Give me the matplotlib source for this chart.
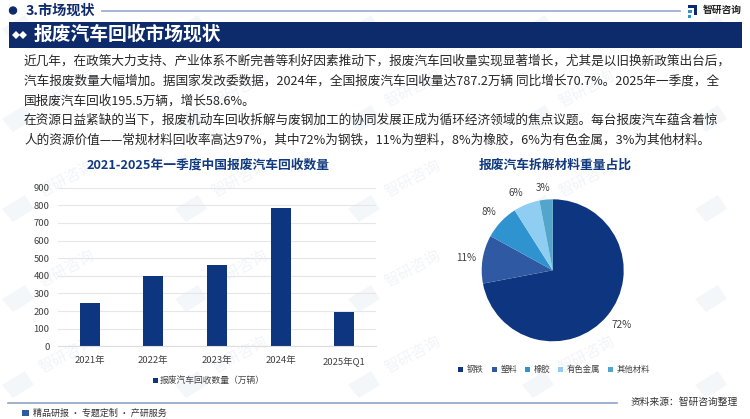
import matplotlib
matplotlib.use('Agg')
import matplotlib.pyplot as plt
from matplotlib.patches import Rectangle, Circle, Polygon

plt.rcParams['font.family'] = ['Noto Sans CJK SC', 'DejaVu Sans']

years = ['2021年', '2022年', '2023年', '2024年', '2025年Q1']
recycled = [245, 398, 462, 787, 195]
bar_name = '报废汽车回收数量（万辆）'
y_ticks = [0, 100, 200, 300, 400, 500, 600, 700, 800, 900]

materials = ['钢铁', '塑料', '橡胶', '有色金属', '其他材料']
shares = [72, 11, 8, 6, 3]
pie_colors = ['#0d3580', '#2f5aa3', '#2f93d0', '#8fcdf2', '#52a6cc']

para_lines = [
    '近几年，在政策大力支持、产业体系不断完善等利好因素推动下，报废汽车回收量实现显著增长，尤其是以旧换新政策出台后，',
    '汽车报废数量大幅增加。据国家发改委数据，2024年，全国报废汽车回收量达787.2万辆 同比增长70.7%。2025年一季度，全',
    '国报废汽车回收195.5万辆，增长58.6%。',
    '在资源日益紧缺的当下，报废机动车回收拆解与废钢加工的协同发展正成为循环经济领域的焦点议题。每台报废汽车蕴含着惊',
    '人的资源价值——常规材料回收率高达97%，其中72%为钢铁，11%为塑料，8%为橡胶，6%为有色金属，3%为其他材料。',
]
para_y = [61.5, 81.5, 101.5, 120.5, 140.5]

W, H = 750, 419
navy = '#0d2a6b'
title_blue = '#123a80'

fig = plt.figure(figsize=(7.5, 4.19), dpi=100)
bg = fig.add_axes([0, 0, 1, 1])
bg.set_xlim(0, W)
bg.set_ylim(H, 0)
bg.axis('off')

# watermark, very light, sits under everything
for x0 in [17, 190, 363, 537, 710]:
    for y0 in [27, 117, 207, 297, 383]:
        bg.add_patch(Polygon([(x0 - 15, y0 + 2), (x0 + 8, y0 - 12), (x0 + 17, y0 + 2), (x0 - 4, y0 + 15)],
                             color='#f4f7fa', lw=0, zorder=0))
        if x0 < 700 and y0 > 30:
            bg.text(x0 + 50, y0 - 28, '智研咨询', fontsize=11, color='#f2f4f7', rotation=28,
                    ha='center', va='center', zorder=0)

# header
bg.add_patch(Circle((13, 10.5), 3.5, color=navy, zorder=2))
bg.text(26, 10.5, '3.市场现状', fontsize=10.2, fontweight='bold', color=navy, va='center', zorder=3)
bg.plot([102, 680], [11, 11], color='#9fb0d0', lw=1.3, zorder=2)
bg.add_patch(Rectangle((9, 22), 733, 26, color=navy, lw=0, zorder=2))
for x0 in [16, 23]:
    bg.add_patch(Polygon([(x0 - 4, 35), (x0, 31), (x0 + 4, 35), (x0, 39)], color='white', lw=0, zorder=3))
bg.text(34, 34.5, '报废汽车回收市场现状', fontsize=13.5, fontweight='bold', color='white', va='center', zorder=3)

# logo
bg.add_patch(Rectangle((688, 5), 9, 3, color=navy, lw=0, zorder=2))
bg.add_patch(Rectangle((688, 10), 4, 3, color='#2f93d0', lw=0, zorder=2))
bg.add_patch(Rectangle((694, 5), 3, 10, color=navy, lw=0, zorder=2))
bg.add_patch(Rectangle((688, 15), 3, 3, color='#2f93d0', lw=0, zorder=2))
bg.text(703, 10, '智研咨询', fontsize=7.0, fontweight='bold', color='#222222', va='center', zorder=3)

for line, y in zip(para_lines, para_y):
    bg.text(24, y, line, fontsize=9.12, color='#262626', va='center', zorder=3)

bg.text(208, 165, '2021-2025年一季度中国报废汽车回收数量', fontsize=9.2, fontweight='bold',
        color=title_blue, ha='center', va='center', zorder=3)
bg.text(555, 165, '报废汽车拆解材料重量占比', fontsize=9.2, fontweight='bold',
        color=title_blue, ha='center', va='center', zorder=3)

# footer
bg.plot([8, 617], [403, 403], color='#8fa3c8', lw=1.2, zorder=2)
bg.text(684, 401.5, '资料来源：智研咨询整理', fontsize=7, color='#333333', ha='center', va='center', zorder=3)
bg.add_patch(Rectangle((22, 410), 7, 6, color='#2f5aa3', lw=0, zorder=2))
bg.text(33, 413.5, '精品研报 · 专题定制 · 产研服务', fontsize=6.5, color='#333333', va='center', zorder=3)

# bar chart
ax = fig.add_axes([58 / W, 1 - 346.3 / H, 318 / W, 158.6 / H])
ax.patch.set_alpha(0)
x = range(len(years))
ax.bar(x, recycled, width=0.315, color='#0d3580')
ax.set_xlim(-0.5, 4.5)
ax.set_ylim(0, 900)
ax.set_yticks(y_ticks)
ax.set_xticks(list(x))
ax.set_xticklabels(years)
ax.tick_params(length=0, labelsize=6.8, labelcolor='#404040')
ax.tick_params(axis='x', pad=7)
ax.tick_params(axis='y', pad=6)
ax.grid(axis='y', color='#e6e6e6', lw=0.8)
ax.set_axisbelow(True)
for s in ['top', 'right', 'left']:
    ax.spines[s].set_visible(False)
ax.spines['bottom'].set_color('#dddddd')
bg.add_patch(Rectangle((153, 378), 4.5, 4.5, color='#0d3580', lw=0, zorder=2))
bg.text(160, 380.5, bar_name, fontsize=6.3, color='#404040', va='center', zorder=3)

# pie chart
pax = fig.add_axes([(552.7 - 71) / W, 1 - (270.3 + 71) / H, 142 / W, 142 / H])
wedges, _ = pax.pie(shares, colors=pie_colors, startangle=90, counterclock=False, radius=1)
pax.set_xlim(-1, 1)
pax.set_ylim(-1, 1)
label_pos = [(622, 324.5), (466.5, 257.5), (488.5, 211.5), (515.5, 193), (543, 187.5)]
for s, (lx, ly) in zip(shares, label_pos):
    bg.text(lx, ly, f'{s}%', fontsize=7.2, color='#404040', ha='center', va='center', zorder=3)

leg_x = [458, 492, 525, 558, 608]
for name, c, lx in zip(materials, pie_colors, leg_x):
    bg.add_patch(Rectangle((lx, 367), 4.5, 4.5, color=c, lw=0, zorder=2))
    bg.text(lx + 8.5, 369.5, name, fontsize=6, color='#404040', va='center', zorder=3)

fig.savefig('out.png', dpi=100)
